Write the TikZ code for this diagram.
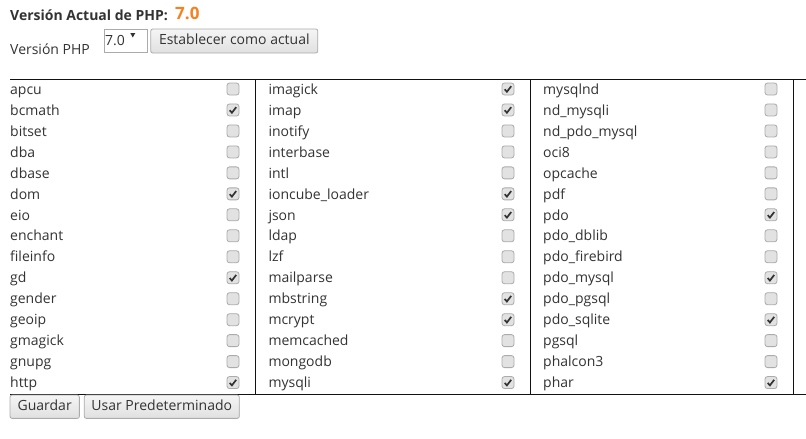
\documentclass[tikz,border=0pt]{standalone}
\usepackage{fontspec}
\setmainfont{Open Sans}
\definecolor{txt}{HTML}{333333}
\definecolor{org}{HTML}{F5821F}
\definecolor{cbfill}{HTML}{E2E2E2}
\definecolor{cbline}{HTML}{ABABAB}
\definecolor{btnline}{HTML}{ABABAB}
\definecolor{rule}{HTML}{111111}
\tikzset{
  item/.style={anchor=base west, inner sep=0pt, text=txt, font=\fontsize{14}{17}\selectfont},
  cbox/.style={draw=cbline, fill=cbfill, rounded corners=2.5pt, minimum width=12pt, minimum height=12pt, inner sep=0pt, line width=0.8pt},
  chk/.style={draw=txt, line width=1.7pt},
  btn/.style={draw=btnline, top color=white!96!black, bottom color=white!88!black, rounded corners=2pt, text=txt,
    font=\fontsize{14}{17}\selectfont, text height=10pt, text depth=3pt, inner sep=0pt, line width=0.8pt},
  grid/.style={draw=rule, line width=1pt}
}
\newcommand{\chkmark}[1]{\draw[chk] ([shift={(-3.3,0.3)}]#1.center) -- ++(2.2,2.5) -- ++(4.3,-5.6);}
\begin{document}
\begin{tikzpicture}[x=1pt,y=-1pt]
\useasboundingbox (0,0) rectangle (806,439);
\fill[white] (0,0) rectangle (806,439);
% header
\node[item, font=\fontsize{14}{17}\selectfont\bfseries] (title) at (10,20) {Versión Actual de PHP:};
\node[item, text=org, font=\fontsize{17}{20}\selectfont\bfseries] (ver) at (175,19.5) {7.0};
\node[item] (vlabel) at (10,54) {Versión PHP};
\node[draw=cbline, fill=white, line width=0.8pt, minimum width=43pt, minimum height=23.5pt, inner sep=0pt] (sel) at (125.8,40.7) {};
\node[item] (seltext) at (105,45) {7.0};
\fill[txt] (130.3,33) -- (135.3,33) -- (132.8,37.5) -- cycle;
\node[btn, minimum width=167pt, minimum height=24pt] (setbtn) at (234.3,41) {Establecer como actual};
% table rules
\draw[grid] (10,79) -- (806,79);
\draw[grid] (10,394) -- (806,394);
\draw[grid] (255.5,79) -- (255.5,394);
\draw[grid] (530,79) -- (530,394);
\draw[grid] (793.5,79) -- (793.5,394);
% column 1
\foreach \nm/\ck [count=\i] in {apcu/0,bcmath/1,bitset/0,dba/0,dbase/0,dom/1,eio/0,enchant/0,fileinfo/0,gd/1,gender/0,geoip/0,gmagick/0,gnupg/0,http/1}{
  \pgfmathsetmacro\yy{89+20.97*(\i-1)}
  \node[item] (a\i) at (10,\yy+5.2) {\nm};
  \node[cbox] (ca\i) at (233,\yy) {};
  \ifnum\ck=1 \chkmark{ca\i} \fi
}
% column 2
\foreach \nm/\ck [count=\i] in {imagick/1,imap/1,inotify/0,interbase/0,intl/0,ioncube\_loader/1,json/1,ldap/0,lzf/0,mailparse/0,mbstring/1,mcrypt/1,memcached/0,mongodb/0,mysqli/1}{
  \pgfmathsetmacro\yy{89+20.97*(\i-1)}
  \node[item] (b\i) at (268.3,\yy+5.2) {\nm};
  \node[cbox] (cb\i) at (508,\yy) {};
  \ifnum\ck=1 \chkmark{cb\i} \fi
}
% column 3
\foreach \nm/\ck [count=\i] in {mysqlnd/0,nd\_mysqli/0,nd\_pdo\_mysql/0,oci8/0,opcache/0,pdf/0,pdo/1,pdo\_dblib/0,pdo\_firebird/0,pdo\_mysql/1,pdo\_pgsql/0,pdo\_sqlite/1,pgsql/0,phalcon3/0,phar/1}{
  \pgfmathsetmacro\yy{89+20.97*(\i-1)}
  \node[item] (c\i) at (543,\yy+5.2) {\nm};
  \node[cbox] (cc\i) at (771,\yy) {};
  \ifnum\ck=1 \chkmark{cc\i} \fi
}
% bottom buttons
\node[btn, minimum width=69.3pt, minimum height=23.3pt] (save) at (44.7,406.7) {Guardar};
\node[btn, minimum width=155pt, minimum height=23.3pt] (dflt) at (161.8,406.7) {Usar Predeterminado};
\end{tikzpicture}
\end{document}
